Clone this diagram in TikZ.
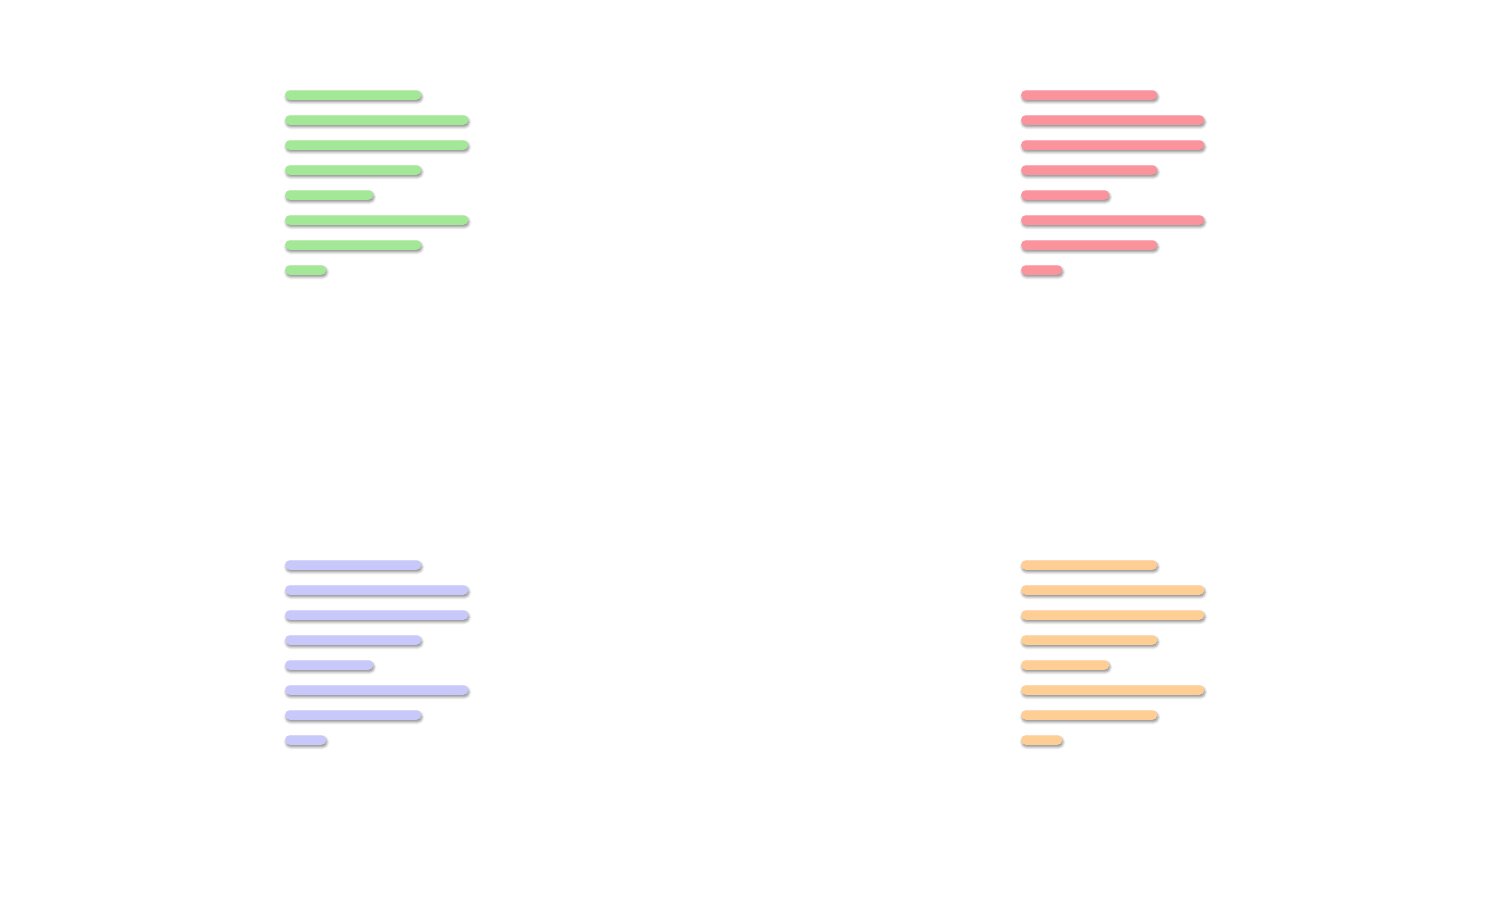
\documentclass[tikz,border=0pt]{standalone}
\usetikzlibrary{shadows.blur}
\definecolor{barGreen}{HTML}{A3E896}
\definecolor{barRed}{HTML}{FA939C}
\definecolor{barPurple}{HTML}{C8C8FA}
\definecolor{barOrange}{HTML}{FFCE94}
\tikzset{
  bar/.style={rounded corners=4.5pt, minimum height=9.5pt, inner sep=0pt,
    anchor=west, blur shadow={shadow xshift=0.8pt, shadow yshift=-2.2pt,
    shadow blur radius=2.6pt, shadow opacity=45}}
}
\begin{document}
\begin{tikzpicture}[x=1pt,y=-1pt]
            \useasboundingbox (0,0) rectangle (1501,921);
            % four groups of bars: x, y, colour, prefix
            \foreach \gx/\gy/\col/\p in {285/95/barGreen/g, 1021/95/barRed/r, 285/565/barPurple/p, 1021/565/barOrange/o} {
                \foreach \len [count=\i] in {136,183,183,136,88,183,136,41} {
                    \node[bar, fill=\col, minimum width=\len pt] (\p\i) at (\gx,\gy+25*\i-25) {};
                }
            }
        \end{tikzpicture}
\end{document}
